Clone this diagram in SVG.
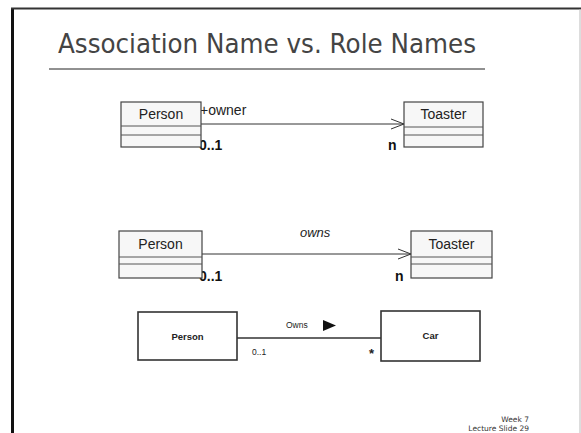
<svg xmlns="http://www.w3.org/2000/svg" width="581" height="433" viewBox="0 0 581 433">
<style>
.box{fill:#f7f7f7;stroke:#444;stroke-width:1.2}
.div{stroke:#555;stroke-width:1}
.lbl{font-family:"Liberation Sans",Arial,sans-serif;font-size:14px;fill:#222}
.mult{font-family:"Liberation Sans",Arial,sans-serif;font-size:14px;fill:#111;font-weight:bold}
.line{stroke:#333;stroke-width:1;fill:none}
.sbox{fill:#fff;stroke:#333;stroke-width:1.6}
.slbl{font-family:"Liberation Sans",Arial,sans-serif;font-size:9.5px;font-weight:bold;fill:#222}
.snote{font-family:"Liberation Sans",Arial,sans-serif;font-size:8.5px;fill:#222}
.foot{font-family:"DejaVu Sans",Verdana,sans-serif;font-size:7.5px;fill:#333}
</style>
<rect x="0" y="0" width="581" height="433" fill="#fff"/>
<g id="slide">
<line x1="12.5" y1="8" x2="12.5" y2="433" stroke="#111" stroke-width="3"/>
<line x1="11" y1="8.5" x2="581" y2="8.5" stroke="#333" stroke-width="2"/>
<line x1="580" y1="9" x2="580" y2="433" stroke="#bbb" stroke-width="1"/>
<text x="267" y="53" text-anchor="middle" font-family="DejaVu Sans,Verdana,sans-serif" font-size="27" fill="#444" textLength="418" lengthAdjust="spacingAndGlyphs">Association Name vs. Role Names</text>
<line x1="49" y1="69" x2="485" y2="69" stroke="#222" stroke-width="1"/>
<text class="foot" x="529" y="422" text-anchor="end">Week 7</text>
<text class="foot" x="529" y="431" text-anchor="end">Lecture Slide 29</text>
</g>
<g id="connectors">
<line class="line" x1="201" y1="124" x2="404" y2="124"/>
<polyline class="line" points="391,119 404,124 391,129"/>
<text class="lbl" x="200" y="115">+owner</text>
<text class="mult" x="199" y="150">0..1</text>
<text class="mult" x="388" y="150">n</text>
<line class="line" x1="202" y1="254" x2="411" y2="254"/>
<polyline class="line" points="398,249 411,254 398,259"/>
<text class="lbl" x="300" y="237" style="font-style:italic;font-size:13px">owns</text>
<text class="mult" x="199" y="281">0..1</text>
<text class="mult" x="395" y="281">n</text>
<line x1="237" y1="338" x2="381" y2="338" stroke="#333" stroke-width="1.6"/>
<text class="snote" x="286" y="328">Owns</text>
<polygon points="323,320 336,325.5 323,331" fill="#111"/>
<text class="snote" x="252" y="355">0..1</text>
<text class="slbl" x="369" y="358" style="font-size:13px">*</text>
</g>
<g id="person1">
<rect class="box" x="121" y="102" width="80" height="45"/>
<line class="div" x1="121" y1="126" x2="201" y2="126"/>
<line class="div" x1="121" y1="135" x2="201" y2="135"/>
<text class="lbl" x="161" y="119" text-anchor="middle">Person</text>
</g>
<g id="toaster1">
<rect class="box" x="404" y="102" width="79" height="45"/>
<line class="div" x1="404" y1="127" x2="483" y2="127"/>
<line class="div" x1="404" y1="135" x2="483" y2="135"/>
<text class="lbl" x="443.5" y="119" text-anchor="middle">Toaster</text>
</g>
<g id="person2">
<rect class="box" x="119" y="231" width="83" height="47"/>
<line class="div" x1="119" y1="257" x2="202" y2="257"/>
<line class="div" x1="119" y1="264" x2="202" y2="264"/>
<text class="lbl" x="160.5" y="249" text-anchor="middle">Person</text>
</g>
<g id="toaster2">
<rect class="box" x="411" y="231" width="81" height="47"/>
<line class="div" x1="411" y1="257" x2="492" y2="257"/>
<line class="div" x1="411" y1="264" x2="492" y2="264"/>
<text class="lbl" x="451.5" y="249" text-anchor="middle">Toaster</text>
</g>
<g id="person3">
<rect class="sbox" x="138" y="312" width="99" height="48"/>
<text class="slbl" x="187.5" y="340" text-anchor="middle">Person</text>
</g>
<g id="car">
<rect class="sbox" x="381" y="311" width="99" height="50"/>
<text class="slbl" x="430.5" y="339" text-anchor="middle">Car</text>
</g>
</svg>
